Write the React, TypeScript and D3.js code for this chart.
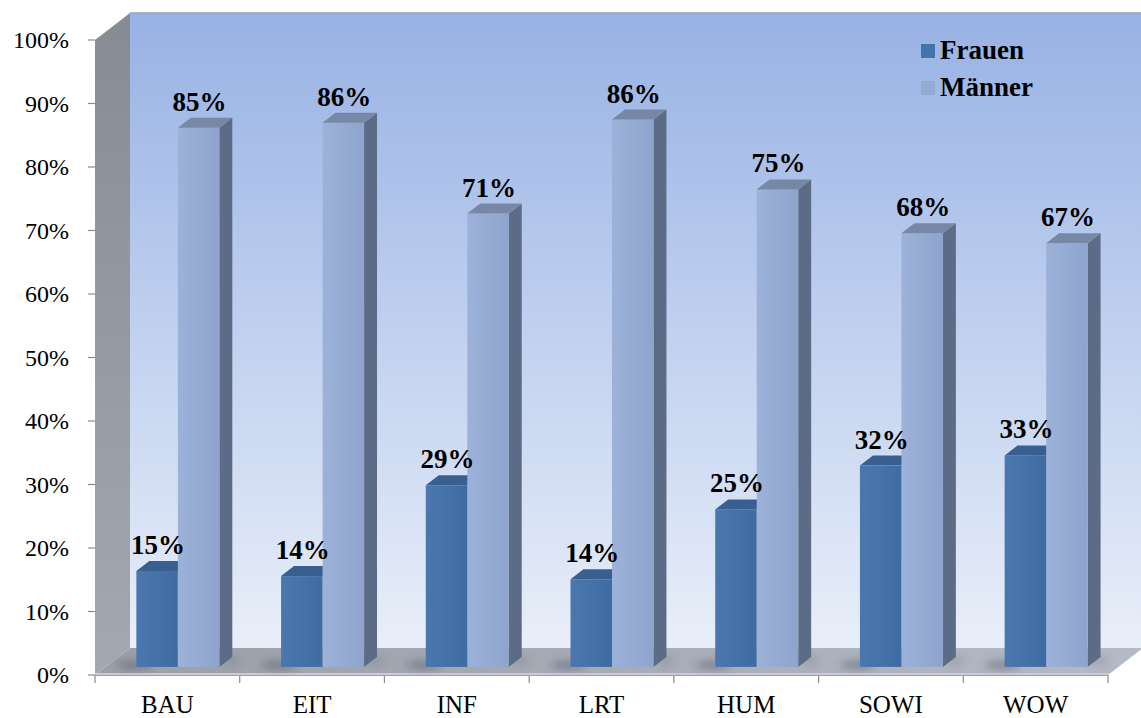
import { useEffect, useRef } from "react";
import * as d3 from "d3";

// data (share of students per faculty)
const categories = ["BAU", "EIT", "INF", "LRT", "HUM", "SOWI", "WOW"];
const frauen = [0.151, 0.143, 0.286, 0.138, 0.248, 0.317, 0.333];
const maenner = [0.849, 0.857, 0.714, 0.862, 0.752, 0.683, 0.667];
const labelsFrauen = ["15%", "14%", "29%", "14%", "25%", "32%", "33%"];
const labelsMaenner = ["85%", "86%", "71%", "86%", "75%", "68%", "67%"];
const yTicks = [0, 0.1, 0.2, 0.3, 0.4, 0.5, 0.6, 0.7, 0.8, 0.9, 1];
const seriesNames = ["Frauen", "Männer"];

const W = 1141;
const H = 718;
const SERIF = "'Liberation Serif', 'Times New Roman', serif";

const App = () => {
  const ref = useRef(null);

  useEffect(() => {
    document.body.style.margin = "0";
    const svg = d3.select(ref.current);
    svg.selectAll("*").remove();

    // front plane scales, depth is drawn as an oblique offset
    const x0 = 95, x1 = 1108;
    const y = d3.scaleLinear().domain([0, 1]).range([675, 40]);
    const x = d3.scaleBand().domain(categories).range([x0, x1]);
    const DX = 35, DY = -27; // full floor depth
    const proj = (px, py, z) => [px + DX * z, py + DY * z];

    const defs = svg.append("defs");
    const grad = (id, stops, x2 = "0", y2 = "1") => {
      const g = defs.append("linearGradient").attr("id", id)
        .attr("x1", 0).attr("y1", 0).attr("x2", x2).attr("y2", y2);
      stops.forEach(([o, c]) => g.append("stop").attr("offset", o).attr("stop-color", c));
    };
    grad("wall", [[0, "#98b2e4"], [0.45, "#bccdee"], [1, "#e9eff9"]]);
    grad("side", [[0, "#878b94"], [1, "#a4a8b0"]]);
    grad("floor", [[0, "#9a9fa8"], [1, "#b4bac6"]], "1", "0");
    grad("fFront", [[0, "#4a78ae"], [1, "#3f6ba1"]], "1", "0");
    grad("mFront", [[0, "#9db2d9"], [1, "#8ea4cc"]], "1", "0");
    defs.append("filter").attr("id", "blur")
      .attr("x", "-50%").attr("y", "-50%").attr("width", "200%").attr("height", "200%")
      .append("feGaussianBlur").attr("stdDeviation", 4);

    const poly = (pts) => "M" + pts.map((p) => p.join(",")).join("L") + "Z";

    // back wall
    const [bwx, bwy] = proj(x0, y(1), 1);
    const [, bwb] = proj(x0, y(0), 1);
    svg.append("rect").attr("x", bwx).attr("y", bwy)
      .attr("width", x1 + DX - bwx).attr("height", bwb - bwy)
      .attr("fill", "url(#wall)");
    svg.append("line").attr("x1", bwx).attr("x2", W).attr("y1", bwy).attr("y2", bwy)
      .attr("stroke", "#9aa0aa").attr("stroke-width", 1.5);

    // side wall
    svg.append("path")
      .attr("d", poly([[x0, y(0)], [x0, y(1)], proj(x0, y(1), 1), proj(x0, y(0), 1)]))
      .attr("fill", "url(#side)");

    // floor
    svg.append("path")
      .attr("d", poly([[x0, y(0)], [x1, y(0)], proj(x1, y(0), 1), proj(x0, y(0), 1)]))
      .attr("fill", "url(#floor)");
    svg.append("line").attr("x1", x0).attr("x2", x1).attr("y1", y(0) - 1).attr("y2", y(0) - 1)
      .attr("stroke", "#c9ccd2").attr("stroke-width", 2);

    // bars
    const zf = 0.3, zb = 0.67;
    const barW = 41.5;
    const series = [
      { name: seriesNames[0], values: frauen, labels: labelsFrauen, front: "url(#fFront)", top: "#385f90", side: "#2f5280" },
      { name: seriesNames[1], values: maenner, labels: labelsMaenner, front: "url(#mFront)", top: "#7788a6", side: "#5d6c86" },
    ];
    const sub = d3.scaleBand().domain(seriesNames).range([-barW, barW]);

    const shadows = svg.append("g").attr("filter", "url(#blur)");
    const bars = svg.append("g");
    const labels = svg.append("g");

    categories.forEach((c, i) => {
      const cx = x(c) + x.bandwidth() / 2;
      const [, yb] = proj(0, y(0), zf);
      const leftF = cx + sub(seriesNames[0]) + DX * zf;
      shadows.append("ellipse").attr("cx", leftF - 2).attr("cy", yb - 2)
        .attr("rx", 18).attr("ry", 4).attr("fill", "#3d4656").attr("opacity", 0.45);
      shadows.append("ellipse").attr("cx", leftF + 2 * barW + 12).attr("cy", yb - 6)
        .attr("rx", 9).attr("ry", 3).attr("fill", "#4a5466").attr("opacity", 0.3);

      series.forEach((s) => {
        const v = s.values[i];
        const xl = cx + sub(s.name) + DX * zf;
        const xr = xl + barW;
        const yt = y(v) + DY * zf;
        const ybot = y(0) + DY * zf;
        const ddx = DX * (zb - zf), ddy = DY * (zb - zf);
        bars.append("path")
          .attr("d", poly([[xr, yt], [xr + ddx, yt + ddy], [xr + ddx, ybot + ddy], [xr, ybot]]))
          .attr("fill", s.side);
        bars.append("rect").attr("x", xl).attr("y", yt)
          .attr("width", barW).attr("height", ybot - yt).attr("fill", s.front);
        bars.append("path")
          .attr("d", poly([[xl, yt], [xr, yt], [xr + ddx, yt + ddy], [xl + ddx, yt + ddy]]))
          .attr("fill", s.top);
        labels.append("text")
          .attr("x", xl + barW / 2 + 1).attr("y", yt + ddy - 7)
          .attr("text-anchor", "middle")
          .style("font-family", SERIF).style("font-weight", "bold").style("font-size", "27px")
          .text(s.labels[i]);
      });
    });

    // value axis
    const axis = svg.append("g");
    yTicks.forEach((t) => {
      axis.append("line").attr("x1", x0 - 7).attr("x2", x0).attr("y1", y(t)).attr("y2", y(t))
        .attr("stroke", "#8a8a8a").attr("stroke-width", 1.2);
      axis.append("text").attr("x", 69).attr("y", y(t)).attr("dy", "0.35em")
        .attr("text-anchor", "end")
        .style("font-family", SERIF).style("font-size", "24px")
        .text(d3.format(".0%")(t));
    });

    // category axis
    const edges = categories.map((c) => x(c)).concat([x1]);
    edges.forEach((e) => {
      axis.append("line").attr("x1", e).attr("x2", e).attr("y1", y(0)).attr("y2", y(0) + 8)
        .attr("stroke", "#8a8a8a").attr("stroke-width", 1.2);
    });
    axis.append("line").attr("x1", x0).attr("x2", x1).attr("y1", y(0) + 0.5).attr("y2", y(0) + 0.5)
      .attr("stroke", "#9a9ea6").attr("stroke-width", 1.2);
    categories.forEach((c) => {
      axis.append("text").attr("x", x(c) + x.bandwidth() / 2).attr("y", 713)
        .attr("text-anchor", "middle")
        .style("font-family", SERIF).style("font-size", "25px")
        .text(c);
    });

    // legend
    const legend = svg.append("g").attr("transform", "translate(921,44)");
    series.forEach((s, i) => {
      const g = legend.append("g").attr("transform", `translate(0,${i * 37})`);
      g.append("rect").attr("width", 14).attr("height", 14)
        .attr("fill", i === 0 ? "#4674aa" : "#95aad2");
      g.append("text").attr("x", 19).attr("y", 15)
        .style("font-family", SERIF).style("font-weight", "bold").style("font-size", "27px")
        .text(s.name);
    });
  }, []);

  return <svg ref={ref} width={W} height={H} style={{ display: "block", background: "#fff" }} />;
};

export default App;
